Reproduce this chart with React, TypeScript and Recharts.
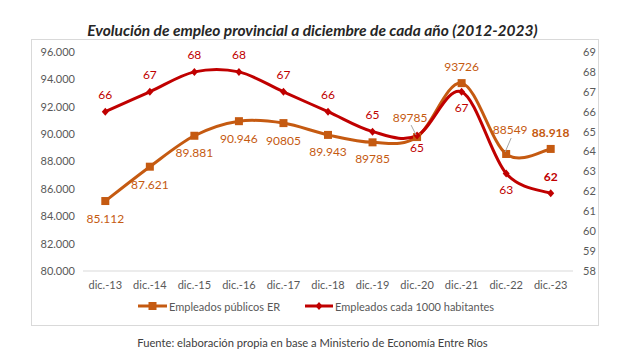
import React from 'react';
import { ComposedChart, Line, XAxis, YAxis, LabelList } from 'recharts';

const categories = ['dic.-13', 'dic.-14', 'dic.-15', 'dic.-16', 'dic.-17', 'dic.-18', 'dic.-19', 'dic.-20', 'dic.-21', 'dic.-22', 'dic.-23'];
const empleados = [85112, 87621, 89881, 90946, 90805, 89943, 89400, 89785, 93726, 88549, 88918];
const empleadosLabels = ['85.112', '87.621', '89.881', '90.946', '90805', '89.943', '89785', '89785', '93726', '88549', '88.918'];
const ratio = [66, 67, 68, 68, 67, 66, 65, 64.8, 67, 62.9, 61.9];
const ratioLabels = ['66', '67', '68', '68', '67', '66', '65', '65', '67', '63', '62'];
const leftTicks = [80000, 82000, 84000, 86000, 88000, 90000, 92000, 94000, 96000];
const rightTicks = [58, 59, 60, 61, 62, 63, 64, 65, 66, 67, 68, 69];

const data = categories.map((c, i) => ({ cat: c, emp: empleados[i], rat: ratio[i] }));

// label placement (style config)
const empPlace = [
  { dx: 0, dy: 17 }, { dx: 0, dy: 18 }, { dx: 0, dy: 17 }, { dx: 0, dy: 17 }, { dx: 0, dy: 17 },
  { dx: 0, dy: 17 }, { dx: 0, dy: 16 }, { dx: -7, dy: -20, leader: true }, { dx: 0, dy: -17 },
  { dx: 4, dy: -24, leader: true }, { dx: 0, dy: -16, bold: true },
];
const ratPlace = [
  { dy: -17 }, { dy: -17 }, { dy: -17 }, { dy: -17 }, { dy: -17 }, { dy: -17 }, { dy: -17 },
  { dy: 12 }, { dy: 16 }, { dy: 16 }, { dy: -17, bold: true },
];

const ORANGE = '#C55A11';
const RED = '#C00000';
const FONT = 'Lato, "Open Sans", sans-serif';

function excelCurve(context: any) {
  let pts: number[][] = [];
  return {
    areaStart() {},
    areaEnd() {},
    lineStart() { pts = []; },
    point(x: number, y: number) { pts.push([+x, +y]); },
    lineEnd() {
      const n = pts.length;
      if (!n) return;
      context.moveTo(pts[0][0], pts[0][1]);
      for (let i = 0; i < n - 1; i++) {
        const p0 = pts[Math.max(i - 1, 0)];
        const p1 = pts[i];
        const p2 = pts[i + 1];
        const p3 = pts[Math.min(i + 2, n - 1)];
        const c1x = p1[0] + (p2[0] - p0[0]) / 6;
        const c1y = p1[1] + (p2[1] - p0[1]) / 6;
        const c2x = p2[0] - (p3[0] - p1[0]) / 6;
        const c2y = p2[1] - (p3[1] - p1[1]) / 6;
        context.bezierCurveTo(c1x, c1y, c2x, c2y, p2[0], p2[1]);
      }
    },
  };
}

const SquareDot = (p: any) => {
  const { cx, cy } = p;
  if (cx == null || cy == null) return null;
  return <rect key={`s${p.index}`} x={cx - 4} y={cy - 4} width={8} height={8} fill={ORANGE} />;
};
const DiamondDot = (p: any) => {
  const { cx, cy } = p;
  if (cx == null || cy == null) return null;
  return <path key={`d${p.index}`} d={`M${cx},${cy - 4}L${cx + 3.5},${cy}L${cx},${cy + 4}L${cx - 3.5},${cy}Z`} fill={RED} />;
};

const getXY = (props: any) => {
  const x = props.x ?? props.viewBox?.x;
  const y = props.y ?? props.viewBox?.y;
  return [x, y];
};

const EmpLabel = (props: any) => {
  const [x, y] = getXY(props);
  const i = props.index;
  if (x == null || y == null || i == null) return null;
  const pl: any = empPlace[i];
  const tx = x + pl.dx;
  const ty = y + pl.dy;
  return (
    <g>
      {pl.leader && <line x1={tx + 1} y1={ty + 8} x2={x - 1} y2={y - 2} stroke="#A6A6A6" strokeWidth={1} />}
      <text x={tx} y={ty} textAnchor="middle" dominantBaseline="central" fill={ORANGE} fontSize={12} fontWeight={pl.bold ? 700 : 400} fontFamily={FONT}>
        {empleadosLabels[i]}
      </text>
    </g>
  );
};

const RatLabel = (props: any) => {
  const [x, y] = getXY(props);
  const i = props.index;
  if (x == null || y == null || i == null) return null;
  const pl: any = ratPlace[i];
  return (
    <text x={x} y={y + pl.dy} textAnchor="middle" dominantBaseline="central" fill={RED} fontSize={12} fontWeight={pl.bold ? 700 : 400} fontFamily={FONT}>
      {ratioLabels[i]}
    </text>
  );
};

const fmtThousands = (v: number) => v.toLocaleString('de-DE', { minimumFractionDigits: 0 }).replace(/,/g, '.');

export default function App() {
  return (
    <div style={{ position: 'absolute', left: 0, top: 0, width: 625, height: 355, background: '#fff', fontFamily: FONT }}>
      <div style={{ position: 'absolute', left: 31, top: 39, width: 566, height: 285, border: '1px solid #D9D9D9' }} />
      <div style={{ position: 'absolute', left: 0, top: 20, width: 625, textAlign: 'center', fontSize: 15.5, fontWeight: 700, fontStyle: 'italic', color: '#262626', lineHeight: '20px' }}>
        Evolución de empleo provincial a diciembre de cada año (2012-2023)
      </div>
      <div style={{ position: 'absolute', left: 0, top: 0 }}>
        <ComposedChart width={625} height={355} data={data} margin={{ top: 52, right: 0, bottom: 0, left: 0 }}>
          <XAxis dataKey="cat" height={84} axisLine={{ stroke: '#D9D9D9' }} tickLine={false} tickMargin={4} interval={0}
            padding={{ left: 22.3, right: 22.3 }} tick={{ fill: '#595959', fontSize: 11, fontFamily: FONT }} />
          <YAxis yAxisId="left" orientation="left" width={83} domain={[80000, 96000]} ticks={leftTicks} axisLine={false} tickLine={false}
            tickFormatter={fmtThousands} tick={{ fill: '#595959', fontSize: 11, fontFamily: FONT }} interval={0} allowDataOverflow />
          <YAxis yAxisId="right" orientation="right" width={52} domain={[58, 69]} ticks={rightTicks} axisLine={false} tickLine={false}
            tick={{ fill: '#595959', fontSize: 11, fontFamily: FONT }} interval={0} tickMargin={4} allowDataOverflow />
          <Line yAxisId="left" dataKey="emp" name="Empleados públicos ER" type={excelCurve as any} stroke={ORANGE} strokeWidth={3}
            dot={SquareDot} activeDot={false} isAnimationActive={false}>
            <LabelList dataKey="emp" content={EmpLabel} />
          </Line>
          <Line yAxisId="right" dataKey="rat" name="Empleados cada 1000 habitantes" type={excelCurve as any} stroke={RED} strokeWidth={3}
            dot={DiamondDot} activeDot={false} isAnimationActive={false}>
            <LabelList dataKey="rat" content={RatLabel} />
          </Line>
        </ComposedChart>
      </div>
      <svg style={{ position: 'absolute', left: 0, top: 296 }} width={625} height={20}>
        <line x1={138} y1={10} x2={167} y2={10} stroke={ORANGE} strokeWidth={3} />
        <rect x={148.5} y={6} width={8} height={8} fill={ORANGE} />
        <text x={169} y={10} dominantBaseline="central" fill="#595959" fontSize={11} fontFamily={FONT}>Empleados públicos ER</text>
        <line x1={305} y1={10} x2={333} y2={10} stroke={RED} strokeWidth={3} />
        <path d="M319,6L322.5,10L319,14L315.5,10Z" fill={RED} />
        <text x={335} y={10} dominantBaseline="central" fill="#595959" fontSize={11} fontFamily={FONT}>Empleados cada 1000 habitantes</text>
      </svg>
      <div style={{ position: 'absolute', left: 0, top: 335, width: 625, textAlign: 'center', fontSize: 11.2, color: '#404040', lineHeight: '16px' }}>
        Fuente: elaboración propia en base a Ministerio de Economía Entre Ríos
      </div>
    </div>
  );
}
